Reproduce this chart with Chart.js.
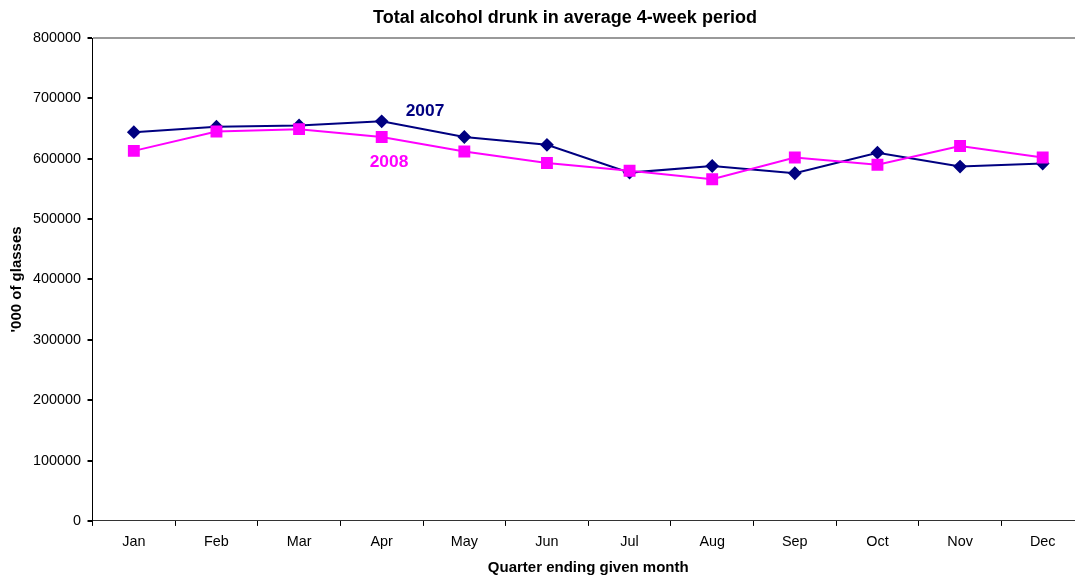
<!DOCTYPE html>
<html>
<head>
<meta charset="utf-8">
<script src="https://cdn.jsdelivr.net/npm/chart.js@4"></script>
<style>
  html, body { margin: 0; padding: 0; background: #fff; overflow: hidden; }
  #wrap { width: 1075px; height: 579px; overflow: hidden; }
</style>
</head>
<body>
<div id="wrap"><canvas id="myChart" width="1130" height="579"></canvas></div>
<script>
var months = ["Jan", "Feb", "Mar", "Apr", "May", "Jun", "Jul", "Aug", "Sep", "Oct", "Nov", "Dec"];
var glasses2007 = [644000, 653000, 655000, 662000, 636000, 623000, 577000, 588000, 576000, 610000, 587000, 592000];
var glasses2008 = [613000, 645000, 649000, 636000, 612000, 593000, 580000, 566000, 602000, 590000, 621000, 602000];
var yTicks = [0, 100000, 200000, 300000, 400000, 500000, 600000, 700000, 800000];

var FONT = "'Liberation Sans', Arial, sans-serif";

// title and the two series names are drawn straight onto the canvas
var textPlugin = {
  id: "textPlugin",
  afterDraw: function (chart) {
    var c = chart.ctx;
    var xs = chart.scales.x, ys = chart.scales.y;
    c.save();
    c.fillStyle = "#000";
    c.font = "bold 18px " + FONT;
    c.textAlign = "center";
    c.textBaseline = "middle";
    c.fillText("Total alcohol drunk in average 4-week period", 565, 18);

    c.font = "bold 17.4px " + FONT;
    c.textAlign = "left";
    c.fillStyle = "#000080";
    c.fillText("2007", xs.getPixelForValue(3.29), ys.getPixelForValue(679000));
    c.fillStyle = "#FF00FF";
    c.fillText("2008", xs.getPixelForValue(2.854), ys.getPixelForValue(594000));
    c.restore();
  }
};

var ctx = document.getElementById("myChart");
var myChart = new Chart(ctx, {
  type: "line",
  data: {
    labels: months,
    datasets: [
      {
        label: "2007",
        data: glasses2007,
        borderColor: "#000080",
        backgroundColor: "#000080",
        borderWidth: 2,
        pointStyle: "rectRot",
        pointRadius: 5.5,
        tension: 0,
        order: 2,
      },
      {
        label: "2008",
        data: glasses2008,
        borderColor: "#FF00FF",
        backgroundColor: "#FF00FF",
        borderWidth: 2,
        pointStyle: "rect",
        pointRadius: 7,
        tension: 0,
        order: 1,
      },
    ],
  },
  options: {
    responsive: false,
    animation: false,
    layout: { padding: { top: 38, right: 46, bottom: 0, left: 0 } },
    plugins: {
      legend: { display: false },
      tooltip: { enabled: false },
    },
    scales: {
      x: {
        offset: true,
        grid: {
          offset: true,
          drawOnChartArea: false,
          tickLength: 5,
          tickColor: "#000",
        },
        border: { color: "#333", width: 1 },
        ticks: { color: "#000", padding: 7.4, font: { family: FONT, size: 14.4 } },
        title: {
          display: true,
          text: "Quarter ending given month",
          color: "#000",
          font: { family: FONT, size: 15, weight: "bold" },
          padding: { top: 1, bottom: 2 },
        },
      },
      y: {
        min: 0,
        max: 800000,
        afterBuildTicks: function (axis) {
          axis.ticks = yTicks.map(function (v) { return { value: v }; });
        },
        grid: {
          color: function (c) { return c.tick && c.tick.value === 800000 ? "#999" : "rgba(0,0,0,0)"; },
          tickColor: "#000",
          tickLength: 5,
          lineWidth: 2,
        },
        border: { color: "#000", width: 1 },
        ticks: {
          color: "#000",
          padding: 6.5,
          font: { family: FONT, size: 14.4 },
          callback: function (v) { return String(v); },
        },
        title: {
          display: true,
          text: "'000 of glasses",
          color: "#000",
          font: { family: FONT, size: 15, weight: "bold" },
          padding: { top: 8, bottom: 0.5 },
        },
      },
    },
  },
  plugins: [textPlugin],
});
</script>
</body>
</html>
